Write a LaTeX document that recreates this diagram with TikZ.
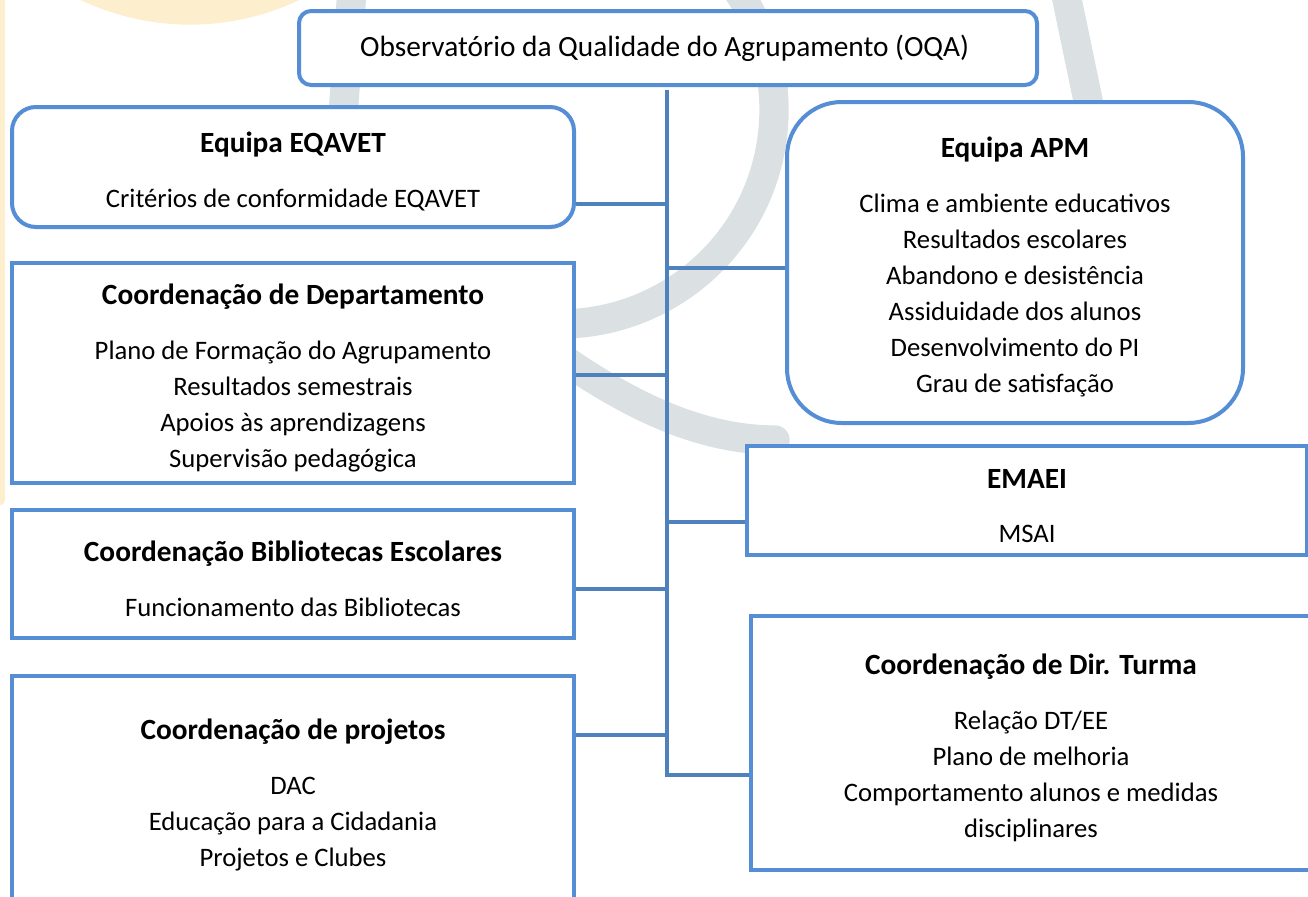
\documentclass[tikz,border=0pt]{standalone}
\usepackage{fontspec}
\setmainfont{Carlito}
\usetikzlibrary{positioning}
\definecolor{boxblue}{RGB}{85,142,213}
\definecolor{linkblue}{RGB}{79,129,189}
\definecolor{wmgray}{RGB}{219,224,227}
\definecolor{wmorange}{RGB}{253,238,205}

\newcommand{\boxtitle}[1]{{\fontsize{22}{27}\selectfont\bfseries\rule{0pt}{22.5pt}#1}}

\tikzset{
  box/.style={draw=boxblue, line width=3pt, fill=white, align=center,
    inner sep=0pt, font=\fontsize{20}{27}\selectfont},
  link/.style={draw=linkblue, line width=3.6pt},
  wmark/.style={line width=22pt, line cap=round},
}

\begin{document}
\begin{tikzpicture}[x=0.75pt, y=-0.75pt]
  \useasboundingbox (0,0) rectangle (1308,896);
  \clip (0,0) rectangle (1308,896);

  % faint logo behind the chart
  \draw[wmark, wmorange] (190,-230) ++(60:240) arc[start angle=60, end angle=125, radius=240];
  \draw[wmark, wmorange, line width=8pt] (0,0) -- (0,500);
  \draw[wmark, wmgray] (560,110) ++(-40:214) arc[start angle=-40, end angle=95, radius=214];
  \draw[wmark, wmgray] (530,335) .. controls (610,395) and (690,440) .. (775,440);
  \draw[wmark, wmgray] (352,-10) -- (342,130);
  \draw[wmark, wmgray] (1065,-10) -- (1090,110);

  % boxes
  \node[box, rounded corners=9pt, minimum width=553.5pt, minimum height=55.5pt,
        font=\fontsize{22}{27}\selectfont] (oqa) at (668,48) {
    Observatório da Qualidade do Agrupamento (OQA)
  };

  \node[box, rounded corners=18pt, minimum width=421.5pt, minimum height=90pt] (eqavet) at (293,167) {
    \boxtitle{Equipa EQAVET}\\[14pt]
    Critérios de conformidade EQAVET
  };

  \node[box, rounded corners=41pt, minimum width=342pt, minimum height=240.75pt] (apm) at (1015,262.5) {
    \boxtitle{Equipa APM}\\[14pt]
    Clima e ambiente educativos\\
    Resultados escolares\\
    Abandono e desistência\\
    Assiduidade dos alunos\\
    Desenvolvimento do PI\\
    Grau de satisfação
  };

  \node[box, minimum width=421.5pt, minimum height=165pt] (dept) at (293,373) {
    \boxtitle{Coordenação de Departamento}\\[14pt]
    Plano de Formação do Agrupamento\\
    Resultados semestrais\\
    Apoios às aprendizagens\\
    Supervisão pedagógica
  };

  \node[box, minimum width=420pt, minimum height=81.75pt] (emaei) at (1027,500.5) {
    \boxtitle{EMAEI}\\[14pt]
    MSAI
  };

  \node[box, minimum width=421.5pt, minimum height=96pt] (bib) at (293,574) {
    \boxtitle{Coordenação Bibliotecas Escolares}\\[14pt]
    Funcionamento das Bibliotecas
  };

  \node[box, minimum width=421.5pt, minimum height=171pt] (proj) at (293,790) {
    \boxtitle{Coordenação de projetos}\\[14pt]
    DAC\\
    Educação para a Cidadania\\
    Projetos e Clubes
  };

  \node[box, minimum width=420pt, minimum height=190.5pt] (turma) at (1031,743) {
    \boxtitle{Coordenação de Dir. Turma}\\[14pt]
    Relação DT/EE\\
    Plano de melhoria\\
    Comportamento alunos e medidas\\
    disciplinares
  };

  % trunk and branches
  \coordinate (top) at (667,90);
  \coordinate (bot) at (667,775);
  \draw[link] (top) -- (bot) -- (bot -| turma.west);

  \foreach \y/\n/\s in {204/eqavet/east, 268/apm/west, 375/dept/east,
                        522/emaei/west, 589/bib/east, 735/proj/east}{
    \coordinate (j-\n) at (667,\y);
    \draw[link] (j-\n) -- (j-\n -| \n.\s);
  }
\end{tikzpicture}
\end{document}
